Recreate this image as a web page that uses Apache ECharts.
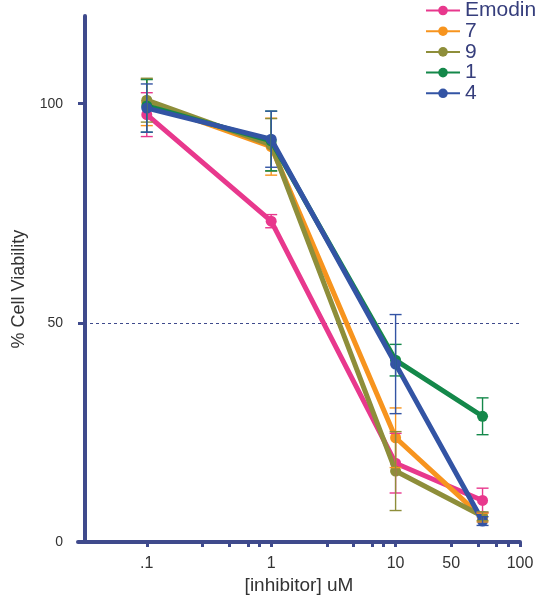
<!DOCTYPE html>
<html><head><meta charset="utf-8">
<script src="https://cdn.jsdelivr.net/npm/echarts@6/dist/echarts.min.js"></script>
<style>html,body{margin:0;padding:0;background:#fff}#c{width:544px;height:600px}</style>
</head><body><div id="c"></div>
<script>
// concentrations (uM)
const concentrations = [0.1, 1, 10, 50];
const seriesNames = ['Emodin', '7', '9', '1', '4'];
const seriesColors = ['#E8388D', '#F7941E', '#8E8E3A', '#14884A', '#3354A4'];
// % cell viability (mean) and error (SD) per compound
const emodinMean = [97.5, 73.2, 18.0, 9.5];
const emodinErr  = [5.0, 1.5, 6.8, 2.8];
const c7Mean = [100.3, 90.2, 23.8, 5.6];
const c7Err  = [5.3, 6.5, 6.8, 1.0];
const c9Mean = [100.8, 90.6, 16.2, 5.9];
const c9Err  = [5.0, 6.0, 9.0, 1.0];
const c1Mean = [99.5, 91.5, 41.5, 28.7];
const c1Err  = [6.0, 6.8, 3.6, 4.2];
const c4Mean = [99.0, 91.9, 40.6, 4.8];
const c4Err  = [5.5, 6.4, 11.3, 1.0];
// axes
const yTickValues = [0, 50, 100];
const xLabelValues = [0.1, 1, 10, 28, 100];
const xLabelTexts = ['.1', '1', '10', '50', '100'];
const xTickValues = [0.1, 0.28, 0.46, 0.65, 0.8, 1, 2.8, 4.6, 6.5, 8, 10, 28, 46, 65, 80, 100];
const refLine = 50;

const means = [emodinMean, c7Mean, c9Mean, c1Mean, c4Mean];
const errs = [emodinErr, c7Err, c9Err, c1Err, c4Err];
const navy = '#3F4A8C';
const font = 'Liberation Sans, Arial, sans-serif';

function errRender(color) {
  return function (params, api) {
    const x = api.value(0), m = api.value(1), s = api.value(2);
    const top = api.coord([x, m + s]);
    const bot = api.coord([x, m - s]);
    const hw = 6;
    const style = { stroke: color, lineWidth: 1.4 };
    return {
      type: 'group', children: [
        { type: 'line', shape: { x1: top[0], y1: top[1], x2: bot[0], y2: bot[1] }, style: style },
        { type: 'line', shape: { x1: top[0] - hw, y1: top[1], x2: top[0] + hw, y2: top[1] }, style: style },
        { type: 'line', shape: { x1: bot[0] - hw, y1: bot[1], x2: bot[0] + hw, y2: bot[1] }, style: style }
      ]
    };
  };
}

const series = [];
seriesNames.forEach(function (name, i) {
  const s = {
    name: name, type: 'line', z: 3 + i,
    data: concentrations.map(function (c, j) { return [c, means[i][j]]; }),
    symbol: 'circle', symbolSize: 11,
    lineStyle: { width: 5, color: seriesColors[i] },
    itemStyle: { color: seriesColors[i] },
    emphasis: { disabled: true }
  };
  if (i === 0) {
    s.markLine = {
      silent: true, symbol: 'none', z: 1,
      label: { show: false },
      lineStyle: { type: [3, 3], color: navy, width: 1 },
      data: [{ yAxis: refLine }]
    };
  }
  series.push(s);
});
seriesNames.forEach(function (name, i) {
  series.push({
    name: name + ' err', type: 'custom', z: 10 + i,
    renderItem: errRender(seriesColors[i]),
    encode: { x: 0, y: 1 },
    data: concentrations.map(function (c, j) { return [c, means[i][j], errs[i][j]]; })
  });
});

const chart = echarts.init(document.getElementById('c'), null, { renderer: 'canvas' });
chart.setOption({
  animation: false,
  backgroundColor: '#fff',
  textStyle: { fontFamily: font },
  grid: { left: 78, right: 24, top: 16, bottom: 43, containLabel: false },
  legend: {
    data: seriesNames, orient: 'vertical', left: 425, top: 0, padding: 0,
    itemWidth: 34, itemHeight: 12, itemGap: -0.3,
    textStyle: { fontSize: 21, color: '#363e7c', fontFamily: font }
  },
  xAxis: {
    type: 'log', logBase: 10, min: 0.028, max: 100,
    name: '[inhibitor] uM', nameLocation: 'middle', nameGap: 25,
    nameTextStyle: { fontSize: 19, color: '#333', fontFamily: font },
    axisLine: { lineStyle: { color: navy, width: 4, cap: 'round' } },
    axisTick: { customValues: xTickValues, length: 5, inside: false, lineStyle: { color: navy, width: 3 } },
    minorTick: { show: false },
    splitLine: { show: false },
    axisLabel: {
      customValues: xLabelValues, margin: 13, fontSize: 16, color: '#333', fontFamily: font,
      formatter: function (v) {
        let best = 0, bd = Infinity;
        xLabelValues.forEach(function (lv, k) { const d = Math.abs(Math.log10(lv) - Math.log10(v)); if (d < bd) { bd = d; best = k; } });
        return xLabelTexts[best];
      }
    }
  },
  yAxis: {
    type: 'value', min: 0, max: 120, offset: -7,
    name: '% Cell Viability', nameLocation: 'middle', nameGap: 57, nameRotate: 90,
    nameTextStyle: { fontSize: 18, color: '#333', fontFamily: font, padding: [0, 20, 0, 0] },
    axisLine: { show: true, lineStyle: { color: navy, width: 4 } },
    axisTick: { show: true, customValues: yTickValues, length: 7, lineStyle: { color: navy, width: 3 } },
    axisLabel: { customValues: yTickValues, margin: 22, fontSize: 14, color: '#333', fontFamily: font },
    splitLine: { show: false }
  },
  series: series
});
</script>
</body></html>
